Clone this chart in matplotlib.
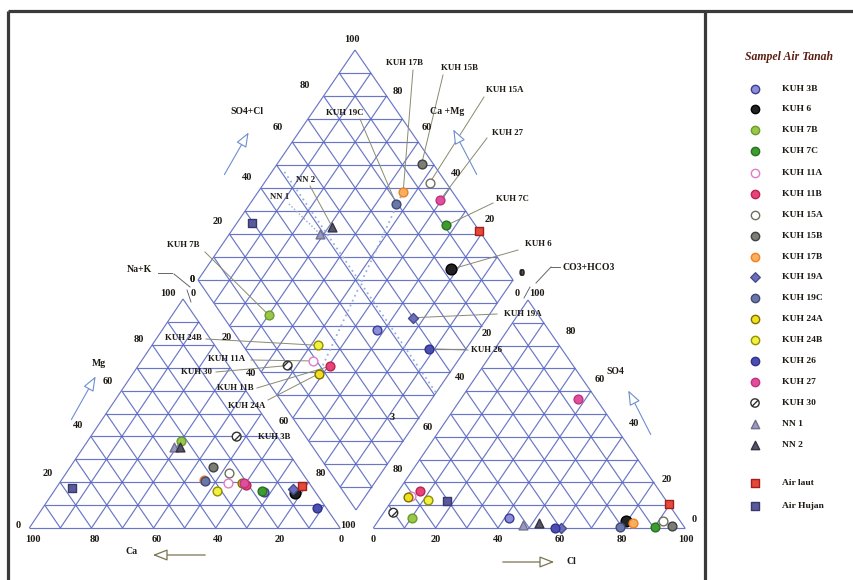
import matplotlib
matplotlib.use('Agg')
import matplotlib.pyplot as plt
import numpy as np

# ---------------- data (percent of meq) ----------------
samples = ['KUH 3B', 'KUH 6', 'KUH 7B', 'KUH 7C', 'KUH 11A', 'KUH 11B', 'KUH 15A',
           'KUH 15B', 'KUH 17B', 'KUH 19A', 'KUH 19C', 'KUH 24A', 'KUH 24B', 'KUH 26',
           'KUH 27', 'KUH 30', 'NN 1', 'NN 2', 'Air laut', 'Air Hujan']
ca   = [16.5, 6.7, 32.0, 17.0, 26.0, 20.7, 23.6, 27.3, 33.0, 6.5, 33.0, 21.5, 31.5, 3.2, 21.0, 13.1, 35.5, 33.8, 2.9, 77.4]
mg   = [15.9, 15.4, 38.0, 16.0, 19.8, 18.8, 23.9, 26.8, 21.0, 17.0, 20.5, 19.8, 16.2, 8.6, 19.5, 39.9, 35.5, 35.2, 18.5, 17.6]
nak  = [67.6, 77.9, 30.0, 67.0, 54.2, 60.5, 52.5, 45.9, 46.0, 76.5, 46.5, 58.7, 52.3, 88.2, 59.5, 47.0, 29.0, 31.0, 78.6, 5.0]
hco3 = [54.1, 17.5, 85.2, 9.3, 81.0, 77.0, 5.3, 3.8, 15.6, 39.9, 20.5, 82.0, 76.1, 41.7, 5.9, 90.2, 51.2, 45.8, 0.0, 70.4]
so4  = [4.5, 3.0, 4.5, 0.6, 14.0, 16.2, 3.2, 0.9, 2.0, 0.0, 0.6, 13.7, 12.3, 0.0, 56.6, 6.7, 1.3, 2.0, 10.5, 12.0]
cl   = [41.4, 79.5, 10.3, 90.1, 5.0, 6.8, 91.5, 95.3, 82.4, 60.1, 78.9, 4.3, 11.6, 58.3, 37.5, 3.1, 47.5, 52.2, 89.5, 17.6]

tick_vals_up = [0, 20, 40, 60, 80, 100]
tick_vals_down = [100, 80, 60, 40, 20, 0]

# ---------------- styles ----------------
styles = {
    'KUH 3B':   dict(marker='o', fc='#8a8ed8', ec='#3c3c96'),
    'KUH 6':    dict(marker='o', fc='#222222', ec='#000000', s=60),
    'KUH 7B':   dict(marker='o', fc='#98c845', ec='#6a9a30'),
    'KUH 7C':   dict(marker='o', fc='#3c9c30', ec='#2a7020'),
    'KUH 11A':  dict(marker='o', fc='white',   ec='#e07cc8'),
    'KUH 11B':  dict(marker='o', fc='#e5467a', ec='#c02050'),
    'KUH 15A':  dict(marker='o', fc='white',   ec='#707060'),
    'KUH 15B':  dict(marker='o', fc='#7d7d78', ec='#404040'),
    'KUH 17B':  dict(marker='o', fc='#f8b060', ec='#f08020'),
    'KUH 19A':  dict(marker='D', fc='#6a70b8', ec='#4a4a90', s=26),
    'KUH 19C':  dict(marker='o', fc='#6a78a8', ec='#404878'),
    'KUH 24A':  dict(marker='o', fc='#f0e020', ec='#807000'),
    'KUH 24B':  dict(marker='o', fc='#f2f040', ec='#909000'),
    'KUH 26':   dict(marker='o', fc='#4a4fb0', ec='#30308a'),
    'KUH 27':   dict(marker='o', fc='#e0509a', ec='#c03080'),
    'KUH 30':   dict(marker='o', fc='white',   ec='#303030', hatch='////'),
    'NN 1':     dict(marker='^', fc='#9a9abf', ec='#707090'),
    'NN 2':     dict(marker='^', fc='#555566', ec='#333344'),
    'Air laut': dict(marker='s', fc='#e84838', ec='#a02020'),
    'Air Hujan': dict(marker='s', fc='#5a5a9a', ec='#383870'),
}

GRID = '#5a68c0'
TXT = '#1e1a14'
FONT = 'Liberation Serif'

fig = plt.figure(figsize=(8.54, 5.8), dpi=100)
ax = fig.add_axes([0, 0, 1, 1])
ax.set_xlim(0, 854)
ax.set_ylim(580, 0)
ax.axis('off')

# ---------------- geometry (pixel layout) ----------------
CL = np.array([29.3, 528.0]); CR = np.array([340.0, 528.0]); CT = np.array([183.0, 299.0])
AL = np.array([373.3, 528.0]); AR = np.array([685.0, 528.0]); AT = np.array([528.0, 300.0])
DB = np.array([356.0, 510.0]); DL = np.array([198.0, 280.0]); DR = np.array([513.0, 280.0])


def cat(c, m, n):
    s = c + m + n
    return (c * CL + m * CT + n * CR) / s


def ani(h, s4, c):
    s = h + s4 + c
    return (h * AL + s4 * AT + c * AR) / s


def dia(camg, so4cl):
    return DB + camg / 100.0 * (DL - DB) + so4cl / 100.0 * (DR - DB)


def seg(p, q, **kw):
    ax.plot([p[0], q[0]], [p[1], q[1]], **kw)


gk = dict(color=GRID, lw=0.85, alpha=0.9, solid_capstyle='butt')
for v in range(0, 101, 10):
    # cation triangle
    seg(cat(100 - v, v, 0), cat(0, v, 100 - v), **gk)
    seg(cat(v, 100 - v, 0), cat(v, 0, 100 - v), **gk)
    seg(cat(100 - v, 0, v), cat(0, 100 - v, v), **gk)
    # anion triangle
    seg(ani(100 - v, v, 0), ani(0, v, 100 - v), **gk)
    seg(ani(v, 100 - v, 0), ani(v, 0, 100 - v), **gk)
    seg(ani(100 - v, 0, v), ani(0, 100 - v, v), **gk)
    # diamond
    seg(dia(v, 0), dia(v, 100), **gk)
    seg(dia(0, v), dia(100, v), **gk)
for s in range(10, 200, 10):
    if s <= 100:
        seg(dia(s, 0), dia(0, s), **gk)
    else:
        seg(dia(100, s - 100), dia(s - 100, 100), **gk)

# dotted guide lines in diamond
dk = dict(color='#9ab0e0', lw=1.3, ls=(0, (1, 2)))
seg(dia(96, 51), dia(0, 51), **dk)
i17 = samples.index('KUH 17B'); i24 = samples.index('KUH 24A')
seg(dia(ca[i17] + mg[i17], so4[i17] + cl[i17]), dia(ca[i24] + mg[i24], so4[i24] + cl[i24]), **dk)

# ---------------- frame ----------------
fk = dict(color='#3a3a3a', lw=2.3, solid_capstyle='butt')
ax.plot([8, 8], [11, 580], **fk)
ax.plot([8, 854], [11, 11], **fk)
ax.plot([705.5, 705.5], [11, 580], **fk)

# ---------------- tick labels ----------------
tk = dict(fontsize=7.5, family=FONT, fontweight='bold', color=TXT, ha='center', va='center')
mg_pos = [(18, 525), (48, 474), (78, 426), (108, 381), (139, 339), (168, 293)]
ca_pos = [(33, 540), (95, 540), (157, 540), (218, 540), (280, 540), (341, 540)]
nak_pos = [(193, 293), (227, 338), (251, 374), (284, 421), (321, 473), (348, 526)]
cl_pos = [(373, 540), (436, 540), (498, 540), (560, 540), (622, 540), (686, 540)]
so4_pos = [(537, 293), (571, 332), (600, 380), (634, 423), (667, 480), (694, 519)]
hco_pos = [(517, 293), (487, 333), (460, 377), (428, 428), (398, 470)]
dso_pos = [(352, 40), (305, 85), (278, 127), (247, 177), (218, 222), (192, 280)]
dcm_pos = [(398, 92), (427, 127), (456, 173), (490, 220), (522, 273)]
for v, p in zip(tick_vals_up, mg_pos):
    ax.text(p[0], p[1], str(v), **tk)
for v, p in zip(tick_vals_down, ca_pos):
    ax.text(p[0], p[1], str(v), **tk)
for v, p in zip(tick_vals_up, nak_pos):
    ax.text(p[0], p[1], str(v), **tk)
for v, p in zip(tick_vals_up, cl_pos):
    ax.text(p[0], p[1], str(v), **tk)
for v, p in zip(tick_vals_down, so4_pos):
    ax.text(p[0], p[1], str(v), **tk)
for v, p in zip(tick_vals_up[:-1], hco_pos):
    ax.text(p[0], p[1], str(v), **tk)
for v, p in zip(tick_vals_down, dso_pos):
    ax.text(p[0], p[1], str(v), **tk)
for v, p in zip(tick_vals_down[1:], dcm_pos):
    ax.text(p[0], p[1], str(v), **tk)
ax.text(392, 418, '3', **tk)

# small slash marks near corners
seg((187, 290), (191, 302), color='#556', lw=0.6)
seg((524, 298), (530, 287), color='#556', lw=0.6)

# ---------------- axis names and arrows ----------------
nk = dict(fontsize=7, family=FONT, fontweight='bold', color=TXT, ha='center', va='center')
ax.text(247, 112, 'SO4+Cl', **nk)
ax.text(447, 112, 'Ca +Mg', **nk)
ax.text(99, 364, 'Mg', **nk)
ax.text(132, 551, 'Ca', **nk)
ax.text(615, 372, 'SO4', **nk)
ax.text(571, 562, 'Cl', **nk)
ax.text(152, 270, 'Na+K', **dict(nk, ha='right'))
ax.text(563, 267, 'CO3+HCO3', **dict(nk, ha='left'))
ax.text(192, 280, '0', **tk)
ax.text(521, 273, '0', **tk)
seg((158, 273), (172, 273), color='#666', lw=0.7)
seg((174, 274), (190, 287), color='#666', lw=0.7)
seg((536, 283), (551, 267), color='#666', lw=0.7)
seg((551, 267), (560, 267), color='#666', lw=0.7)

blue_arrow = dict(arrowstyle='-|>,head_length=0.9,head_width=0.35', fc='white', ec='#6d8fd0', lw=0.8)
olive_arrow = dict(arrowstyle='-|>,head_length=0.9,head_width=0.35', fc='white', ec='#7a7450', lw=0.9)
ax.annotate('', xy=(250, 130), xytext=(223, 177), arrowprops=blue_arrow)
ax.annotate('', xy=(452, 127), xytext=(478, 177), arrowprops=blue_arrow)
ax.annotate('', xy=(97, 374), xytext=(70, 422), arrowprops=blue_arrow)
ax.annotate('', xy=(627, 388), xytext=(652, 437), arrowprops=blue_arrow)
ax.annotate('', xy=(150, 555), xytext=(208, 555), arrowprops=olive_arrow)
ax.annotate('', xy=(557, 562), xytext=(500, 562), arrowprops=olive_arrow)

# ---------------- data points ----------------
for i, name in enumerate(samples):
    st = dict(styles[name])
    size = st.pop('s', 40)
    hatch = st.pop('hatch', None)
    pts = [cat(ca[i], mg[i], nak[i]), ani(hco3[i], so4[i], cl[i]),
           dia(ca[i] + mg[i], so4[i] + cl[i])]
    pts = np.array(pts)
    ax.scatter(pts[:, 0], pts[:, 1], s=size, marker=st['marker'], facecolors=st['fc'],
               edgecolors=st['ec'], linewidths=1.0, hatch=hatch, zorder=5)

# ---------------- leader labels ----------------
lk = dict(fontsize=6.3, family=FONT, fontweight='bold', color=TXT, ha='center', va='center')
lead = dict(color='#8a8a70', lw=0.7)
labels = [
    ('KUH 17B', (405, 63), (413, 70)),
    ('KUH 15B', (460, 68), (443, 75)),
    ('KUH 15A', (505, 90), (484, 97)),
    ('KUH 27', (508, 133), (487, 138)),
    ('KUH 19C', (345, 113), (360, 119)),
    ('KUH 7C', (512, 199), (493, 203)),
    ('KUH 6', (538, 244), (518, 250)),
    ('NN 2', (306, 180), (310, 186)),
    ('NN 1', (280, 197), (289, 204)),
    ('KUH 7B', (183, 245), (205, 252)),
    ('KUH 19A', (523, 314), (497, 314)),
    ('KUH 26', (487, 350), (468, 350)),
    ('KUH 24B', (183, 338), (206, 339)),
    ('KUH 11A', (227, 359), (251, 360)),
    ('KUH 30', (197, 372), (216, 372)),
    ('KUH 11B', (235, 388), (257, 388)),
    ('KUH 24A', (247, 406), (268, 400)),
]
for name, tp, ls in labels:
    i = samples.index(name)
    target = dia(ca[i] + mg[i], so4[i] + cl[i])
    ax.text(tp[0], tp[1], name, **lk)
    if name == 'NN 1':
        seg(ls, target, color='#9aa4c8', lw=1.0, ls=(0, (1, 1.5)))
    else:
        seg(ls, target, **lead)
ax.text(274, 437, 'KUH 3B', **lk)

# ---------------- legend ----------------
ax.text(789, 57, 'Sampel Air Tanah', fontsize=8.5, family=FONT, fontweight='bold',
        fontstyle='italic', color='#5a1e10', ha='center', va='center')
leg_y = [89, 109, 130, 151, 173, 194, 215, 236, 257, 277, 298, 319, 340, 361, 382, 403, 424, 445, 483, 506]
for name, y in zip(samples, leg_y):
    st = dict(styles[name])
    size = st.pop('s', 40)
    hatch = st.pop('hatch', None)
    ax.scatter([755], [y], s=min(size, 40) * 0.9, marker=st['marker'], facecolors=st['fc'],
               edgecolors=st['ec'], linewidths=1.0, hatch=hatch, zorder=5)
    ax.text(782, y, name, fontsize=6.8, family=FONT, fontweight='bold', color=TXT,
            ha='left', va='center')

fig.savefig('out.png', dpi=100)
